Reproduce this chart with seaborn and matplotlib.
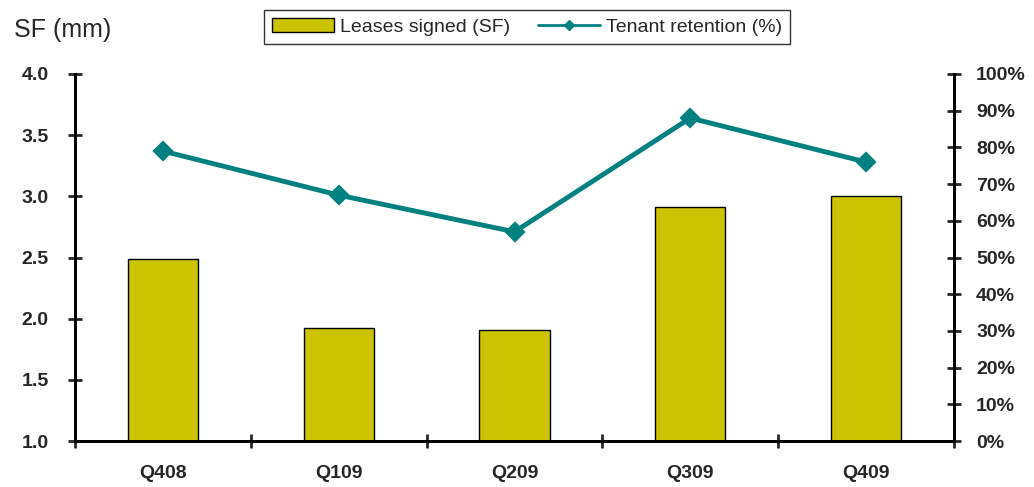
import numpy as np
import pandas as pd
import matplotlib
matplotlib.use("Agg")
import matplotlib.pyplot as plt
from matplotlib.ticker import FixedLocator, PercentFormatter
import seaborn as sns

# --- data ---
quarters = ["Q408", "Q109", "Q209", "Q309", "Q409"]
leases_sf = [2.49, 1.92, 1.91, 2.91, 3.00]
retention_pct = [79, 67, 57, 88, 76]

bar_color = "#CCC400"
line_color = "#008080"
tick_fs = 14

sns.set_style("white")
plt.rcParams["font.family"] = ["Liberation Sans", "DejaVu Sans"]

df = pd.DataFrame({"quarter": quarters, "sf": leases_sf, "ret": retention_pct})

fig = plt.figure(figsize=(10.34, 4.87), dpi=100)
ax = fig.add_axes([75 / 1034, 1 - 441 / 487, (954 - 75) / 1034, (441 - 74) / 487])

sns.barplot(data=df, x="quarter", y="sf", color=bar_color, width=0.4,
            edgecolor="black", linewidth=1, saturation=1, ax=ax)
ax.set_ylim(1.0, 4.0)
ax.set_xlim(-0.5, len(quarters) - 0.5)
ax.set_yticks(np.arange(1.0, 4.01, 0.5))
ax.set_yticklabels([f"{v:.1f}" for v in np.arange(1.0, 4.01, 0.5)],
                   fontweight="bold", fontsize=tick_fs)
ax.set_xlabel("")
ax.set_ylabel("")
ax.tick_params(axis="x", which="major", length=0, pad=17)
for lbl in ax.get_xticklabels():
    lbl.set_fontweight("bold")
    lbl.set_fontsize(tick_fs)
ax.xaxis.set_minor_locator(FixedLocator(np.arange(-0.5, len(quarters), 1.0)))
ax.tick_params(axis="x", which="minor", direction="inout", length=10, width=2, bottom=True)
ax.tick_params(axis="y", direction="inout", length=10, width=2, left=True, pad=14)

ax2 = ax.twinx()
sns.pointplot(data=df, x="quarter", y="ret", color=line_color, markers="D",
              markersize=8, linewidth=3.5, ax=ax2)
ax2.set_ylim(0, 100)
ax2.set_xlim(-0.5, len(quarters) - 0.5)
ax2.set_yticks(np.arange(0, 101, 10))
ax2.yaxis.set_major_formatter(PercentFormatter(decimals=0))
for lbl in ax2.get_yticklabels():
    lbl.set_fontweight("bold")
    lbl.set_fontsize(tick_fs)
ax2.set_ylabel("")
ax2.tick_params(axis="y", direction="inout", length=10, width=2, right=True, pad=11)

for a in (ax, ax2):
    a.spines["top"].set_visible(False)
    for s in ("left", "right", "bottom"):
        a.spines[s].set_linewidth(2)
        a.spines[s].set_color("black")

fig.text(14 / 1034, 1 - 30 / 487, "SF (mm)", fontsize=18, va="center", ha="left")

handles = [
    plt.Rectangle((0, 0), 1, 1, facecolor=bar_color, edgecolor="black", linewidth=1),
    plt.Line2D([], [], color=line_color, marker="D", markersize=5, linewidth=2),
]
fig.legend(handles, ["Leases signed (SF)", "Tenant retention (%)"],
           loc="center", bbox_to_anchor=(527 / 1034, 1 - 27 / 487), ncol=2,
           frameon=True, fancybox=False, edgecolor="black", fontsize=14,
           handlelength=3.2, handletextpad=0.3, columnspacing=1.4, borderpad=0.4)

fig.savefig("out.png", dpi=100)
